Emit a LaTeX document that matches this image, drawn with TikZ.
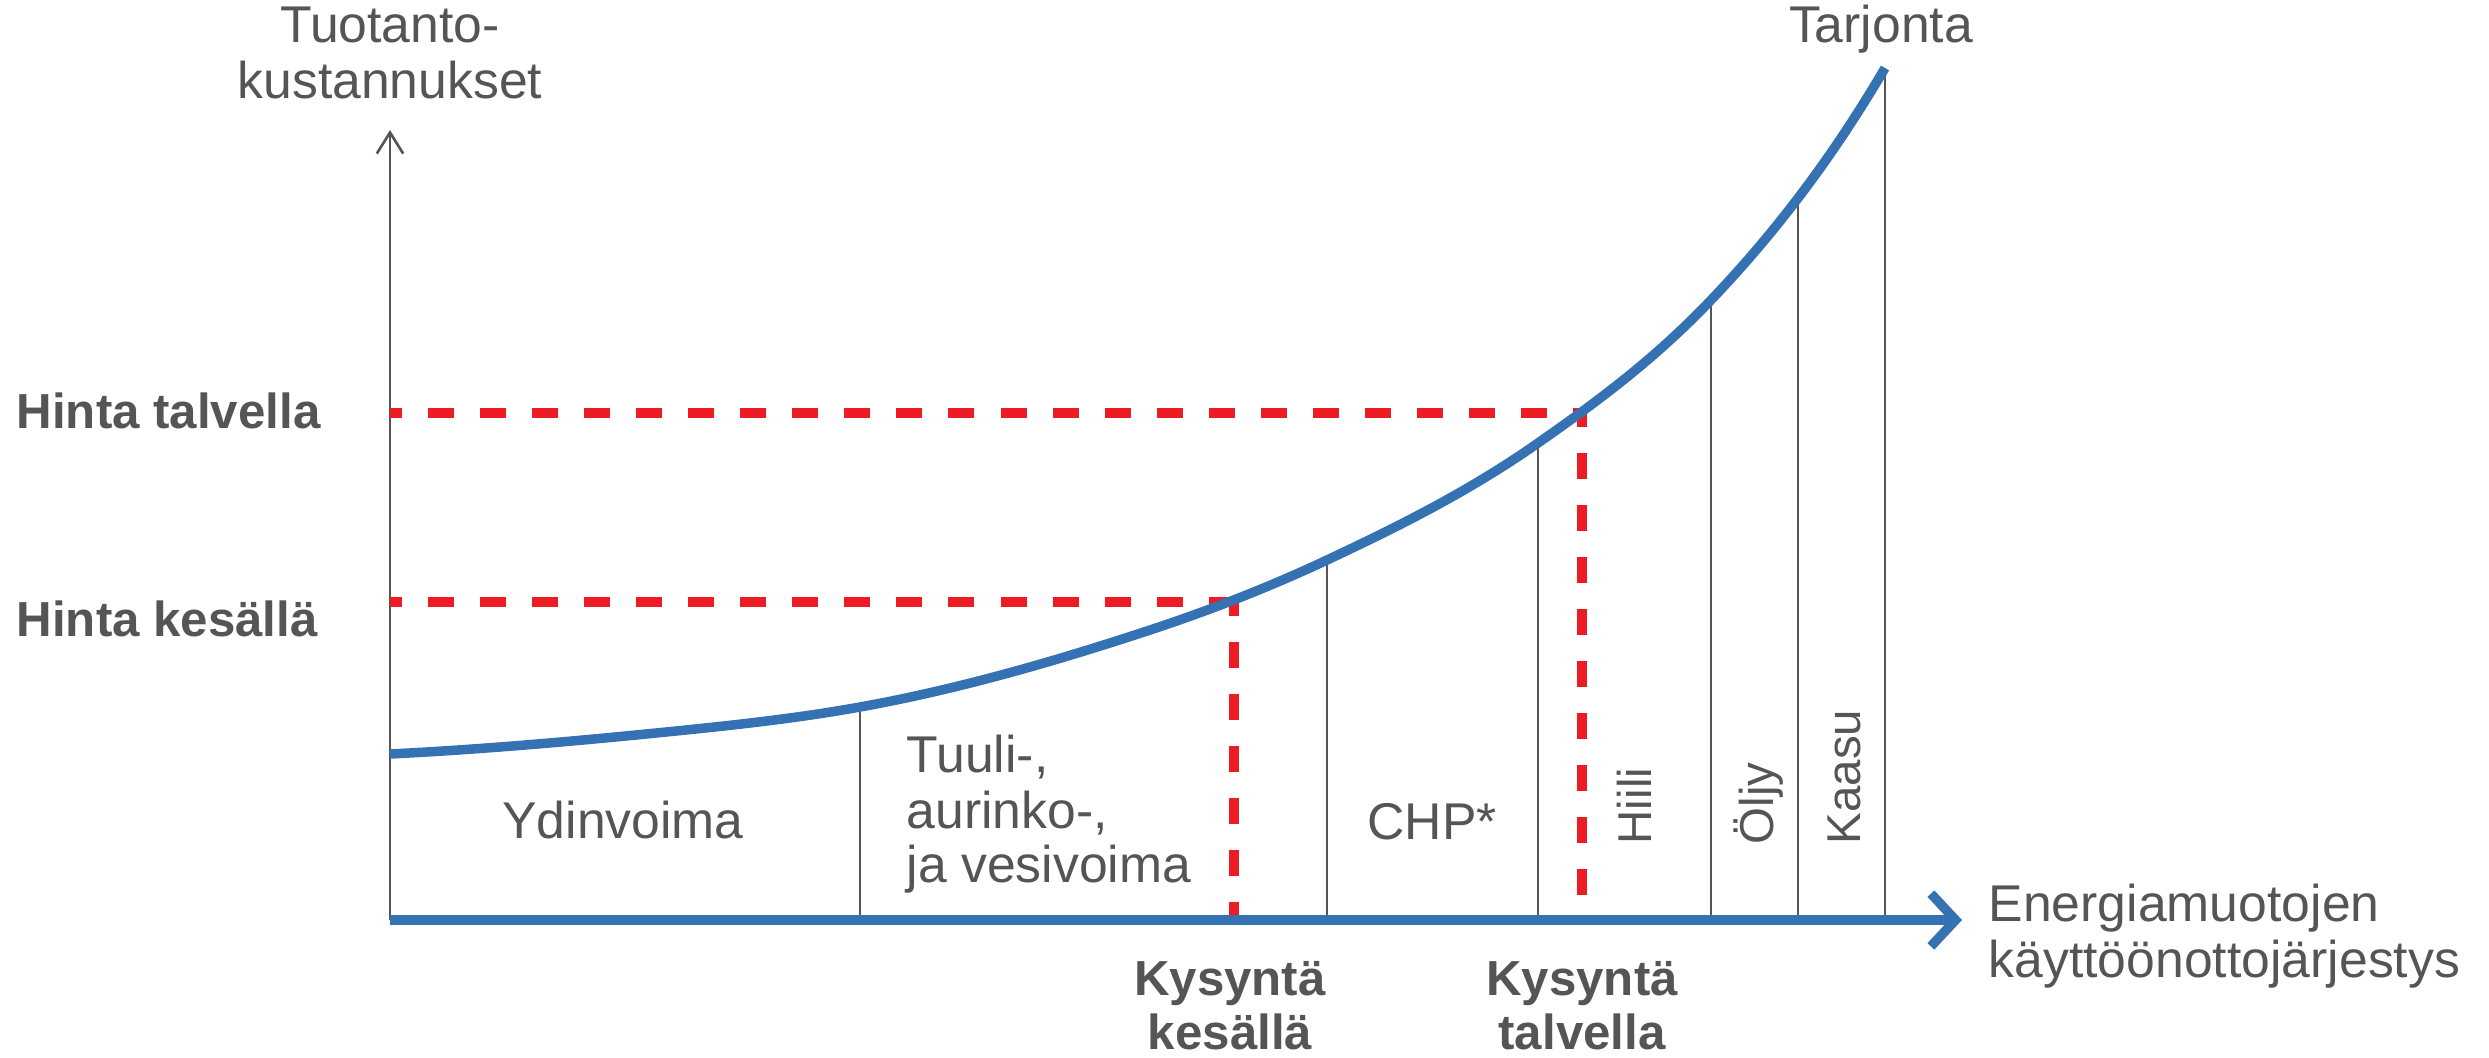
\documentclass[tikz,border=0pt]{standalone}
\usepackage{fontspec}
\setmainfont{Liberation Sans}
\usetikzlibrary{arrows.meta}
\definecolor{cblue}{RGB}{52,114,180}
\definecolor{cred}{RGB}{237,28,36}
\definecolor{cgray}{RGB}{85,85,85}
\begin{document}
\begin{tikzpicture}[x=0.01cm,y=-0.01cm,
  lbl/.style={text=cgray, inner sep=0pt, font=\fontsize{14.7pt}{16pt}\selectfont},
  blbl/.style={text=cgray, inner sep=0pt, font=\fontsize{14pt}{16pt}\selectfont\bfseries},
  rlbl/.style={text=cgray, inner sep=0pt, rotate=90, anchor=base west, font=\fontsize{13.5pt}{15pt}\selectfont},
  divider/.style={draw=cgray, line width=0.6pt},
  reddashh/.style={draw=cred, line width=2.85pt, dash pattern=on 7.4pt off 7.4pt, dash phase=4pt},
  reddashv/.style={draw=cred, line width=2.85pt, dash pattern=on 7.4pt off 7.4pt, dash phase=3.5pt},
  supply/.style={draw=cblue, line width=2.7pt},
  xaxis/.style={draw=cblue, line width=2.7pt, -{Straight Barb[length=7pt,width=15pt]}},
  yaxis/.style={draw=cgray, line width=0.75pt, -{Straight Barb[length=6pt,width=7.5pt]}}
]
\useasboundingbox (0,0) rectangle (2489,1057);

% axis points
\coordinate (o) at (390,920);
\coordinate (ytop) at (390,130);
\coordinate (xend) at (1962,920);

% supply curve points
\coordinate (s0) at (390,754);
\coordinate (s1) at (656,733);
\coordinate (s2) at (860,707);
\coordinate (s3) at (1150,630);
\coordinate (s4) at (1327,560);
\coordinate (s5) at (1538,443);
\coordinate (s6) at (1711,300);
\coordinate (s7) at (1885,68);

% divider tops (on the curve) and bottoms
\coordinate (p1) at (860,707);
\coordinate (p2) at (1327,560);
\coordinate (p3) at (1538,443);
\coordinate (p4) at (1711,300);
\coordinate (p5) at (1798,200);
\coordinate (p6) at (1885,68);
\coordinate (b1) at (860,920);
\coordinate (b2) at (1327,920);
\coordinate (b3) at (1538,920);
\coordinate (b4) at (1711,920);
\coordinate (b5) at (1798,920);
\coordinate (b6) at (1885,920);

% price / demand points
\coordinate (ht) at (390,413);
\coordinate (ct) at (1582,413);
\coordinate (dt) at (1582,920);
\coordinate (hk) at (390,602);
\coordinate (ck) at (1234,602);
\coordinate (dk) at (1234,920);

% dividers
\foreach \i in {1,...,6} { \draw[divider] (b\i) -- (p\i); }

% y axis
\draw[yaxis] (o) -- (ytop);

% red dashed guides
\draw[reddashh] (ht) -- (ct);
\draw[reddashv] (ct) -- (dt);
\draw[reddashh] (hk) -- (ck);
\draw[reddashv] (ck) -- (dk);

% supply curve
\draw[supply] (s0)
  .. controls (478.67,749.57) and (567.33,741.87) .. (s1)
  .. controls (724,726.2) and (792,719.24) .. (s2)
  .. controls (956.67,689.6) and (1053.33,661.9) .. (s3)
  .. controls (1209,610.53) and (1268,587.73) .. (s4)
  .. controls (1397.33,526.94) and (1467.67,492.23) .. (s5)
  .. controls (1595.67,402.63) and (1653.33,360.55) .. (s6)
  .. controls (1769,239.1) and (1827,166.6) .. (s7);

% x axis
\draw[xaxis] (o) -- (xend);

% labels
\node[lbl, anchor=base] (yl1) at (390,42) {Tuotanto-};
\node[lbl, anchor=base] (yl2) at (390,98) {kustannukset};
\node[lbl, anchor=base] (tarj) at (1881,42) {Tarjonta};
\node[blbl, anchor=base west] (hintat) at (16,428) {Hinta talvella};
\node[blbl, anchor=base west] (hintak) at (16,636) {Hinta kesällä};
\node[lbl, anchor=base] (ydin) at (623,838) {Ydinvoima};
\node[lbl, anchor=base west] (tu1) at (906,772) {Tuuli-,};
\node[lbl, anchor=base west] (tu2) at (906,828) {aurinko-,};
\node[lbl, anchor=base west] (tu3) at (906,882) {ja vesivoima};
\node[lbl, anchor=base] (chp) at (1432,839) {CHP*};
\node[rlbl] (hiili) at (1651,845) {Hiili};
\node[rlbl] (oljy) at (1773,845) {Öljy};
\node[rlbl] (kaasu) at (1860,845) {Kaasu};
\node[lbl, anchor=base west] (en1) at (1988,921) {Energiamuotojen};
\node[lbl, anchor=base west] (en2) at (1988,977) {käyttöönottojärjestys};
\node[blbl, anchor=base] (kk1) at (1230,995) {Kysyntä};
\node[blbl, anchor=base] (kk2) at (1230,1049) {kesällä};
\node[blbl, anchor=base] (kt1) at (1582,995) {Kysyntä};
\node[blbl, anchor=base] (kt2) at (1582,1049) {talvella};
\end{tikzpicture}
\end{document}
